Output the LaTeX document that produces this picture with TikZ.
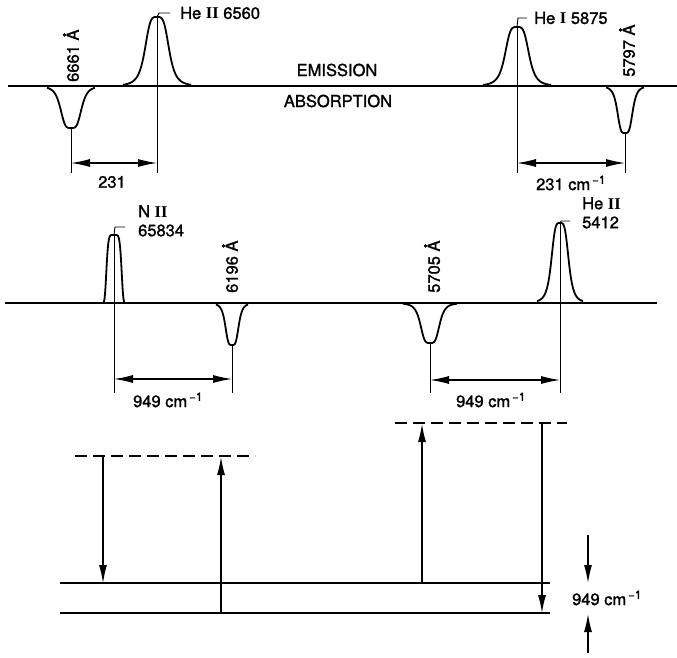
\documentclass[tikz,border=0pt]{standalone}
\usepackage{fontspec}
\setmainfont{TeX Gyre Heros}
\newfontfamily\lblfont{TeX Gyre Heros}[FakeBold=1.4]
\newfontfamily\romfont{Liberation Serif}
\usetikzlibrary{arrows.meta}
\newcommand{\ionII}{{\romfont\bfseries II}}
\newcommand{\ionI}{{\romfont\bfseries I}}
\newcommand{\invcm}{cm\textsuperscript{\,−1}}

\begin{document}
\begin{tikzpicture}[x=1pt,y=-1pt,
  declare function={prof(\u)=1/(1+(\u*\u)^2); narrow(\u)=exp(-(\u*\u)^3);},
  base/.style={line width=2.4pt},
  line/.style={line width=1.8pt, line join=round},
  guide/.style={line width=0.9pt},
  dim/.style={line width=1.1pt, {Latex[length=19pt,width=8pt]}-{Latex[length=19pt,width=8pt]}},
  lvl/.style={line width=1.8pt},
  virt/.style={line width=2.6pt, dash pattern=on 12pt off 6pt},
  trans/.style={line width=1.2pt, -{Latex[length=18pt,width=8pt]}},
  lbl/.style={font=\lblfont\fontsize{16.5}{19}\selectfont, inner sep=0pt},
  rlbl/.style={lbl, rotate=90, anchor=west}]
\useasboundingbox (0,0) rectangle (677,658);

% upper spectrum
\coordinate (t0) at (8,86);
\coordinate (t1) at (677,86);
\coordinate (pA) at (71,128);
\coordinate (pB) at (157,17);
\coordinate (pC) at (517,27);
\coordinate (pD) at (625,133);
\draw[base] (t0) -- (t1);
\draw[line] plot[domain=-24:24, samples=81] ({71+\x},{86+42*prof(\x/11)});
\draw[line] plot[domain=-34:34, samples=81] ({157+\x},{86-69*prof(\x/12.5)});
\draw[line] plot[domain=-34:34, samples=81] ({517+\x},{86-59*prof(\x/12.5)});
\draw[line] plot[domain=-19:19, samples=81] ({625+\x},{86+47*prof(\x/8)});

\node[rlbl] (lA) at (71,82) {6661 Å};
\node[lbl, anchor=west] (lB) at (180,13) {He \ionII\ 6560};
\node[lbl, anchor=west] (lC) at (534,18) {He \ionI\ 5875};
\node[rlbl] (lD) at (627,77) {5797 Å};
\node[lbl] (em) at (337,70) {EMISSION};
\node[lbl] (ab) at (338,101) {ABSORPTION};
\draw[guide] (pB) -- ++(2,-4) -- ++(11,0);
\draw[guide] (pC) -- ++(1,-9) -- ++(9,0);

\coordinate (gA) at (71,173);
\coordinate (gB) at (157,173);
\coordinate (gC) at (517,173);
\coordinate (gD) at (625,173);
\draw[guide] (pA) -- (gA);
\draw[guide] (pB) -- (gB);
\draw[guide] (pC) -- (gC);
\draw[guide] (pD) -- (gD);
\draw[dim] ([yshift=10pt]gA) -- ([yshift=10pt]gB);
\draw[dim] ([yshift=10pt]gC) -- ([yshift=10pt]gD);
\node[lbl] (dA) at (112,182) {231};
\node[lbl] (dC) at (571,183) {231 \invcm};

% middle spectrum
\coordinate (m0) at (5,303);
\coordinate (m1) at (657,303);
\coordinate (pE) at (114,235);
\coordinate (pF) at (232,345);
\coordinate (pG) at (430,343);
\coordinate (pH) at (560,223);
\draw[base] (m0) -- (m1);
\draw[line] plot[domain=-13:13, samples=81] ({114+\x},{303-68*narrow(\x/8)});
\draw[line] plot[domain=-16:16, samples=81] ({232+\x},{303+42*prof(\x/7)});
\draw[line] plot[domain=-27:27, samples=81] ({430+\x},{303+40*prof(\x/10)});
\draw[line] plot[domain=-23:23, samples=81] ({560+\x},{303-80*prof(\x/9)});

\node[lbl, anchor=north west, align=left] (lE) at (138,205) {N \ionII\\65834};
\node[rlbl] (lF) at (230,293) {6196 Å};
\node[rlbl] (lG) at (432,293) {5705 Å};
\node[lbl, anchor=north west, align=left] (lH) at (582,197) {He \ionII\\5412};
\draw[guide] (pE) -- ++(1,-8) -- ++(10,0);
\draw[guide] (pH) -- ++(1,-2) -- ++(9,0);

\coordinate (gE) at (114,393);
\coordinate (gF) at (232,393);
\coordinate (gG) at (430,393);
\coordinate (gH) at (560,393);
\draw[guide] (pE) -- (gE);
\draw[guide] (pF) -- (gF);
\draw[guide] (pG) -- (gG);
\draw[guide] (pH) -- (gH);
\draw[dim] ([yshift=14pt]gE) -- ([yshift=14pt]gF);
\draw[dim] ([yshift=13pt]gG) -- ([yshift=13pt]gH);
\node[lbl] (dE) at (168,400) {949 \invcm};
\node[lbl] (dG) at (491,400) {949 \invcm};

% energy levels
\coordinate (u0) at (60,583);
\coordinate (u1) at (550,583);
\coordinate (w0) at (60,613);
\coordinate (w1) at (550,613);
\coordinate (v0) at (75,456);
\coordinate (v1) at (255,456);
\coordinate (v2) at (395,423);
\coordinate (v3) at (567,423);
\draw[lvl] (u0) -- (u1);
\draw[lvl] (w0) -- (w1);
\draw[virt] (v0) -- (v1);
\draw[virt] (v2) -- (v3);
\draw[trans] (103,456) -- (103,583);
\draw[trans] (221,613) -- (221,457);
\draw[trans] (422,583) -- (422,424);
\draw[trans] (542,423) -- (542,613);

\coordinate (s0) at (588,535);
\coordinate (s1) at (588,583);
\coordinate (s2) at (588,653);
\coordinate (s3) at (588,614);
\draw[trans] (s0) -- (s1);
\draw[trans] (s2) -- (s3);
\node[lbl] (dS) at (607,598) {949 \invcm};
\end{tikzpicture}
\end{document}
